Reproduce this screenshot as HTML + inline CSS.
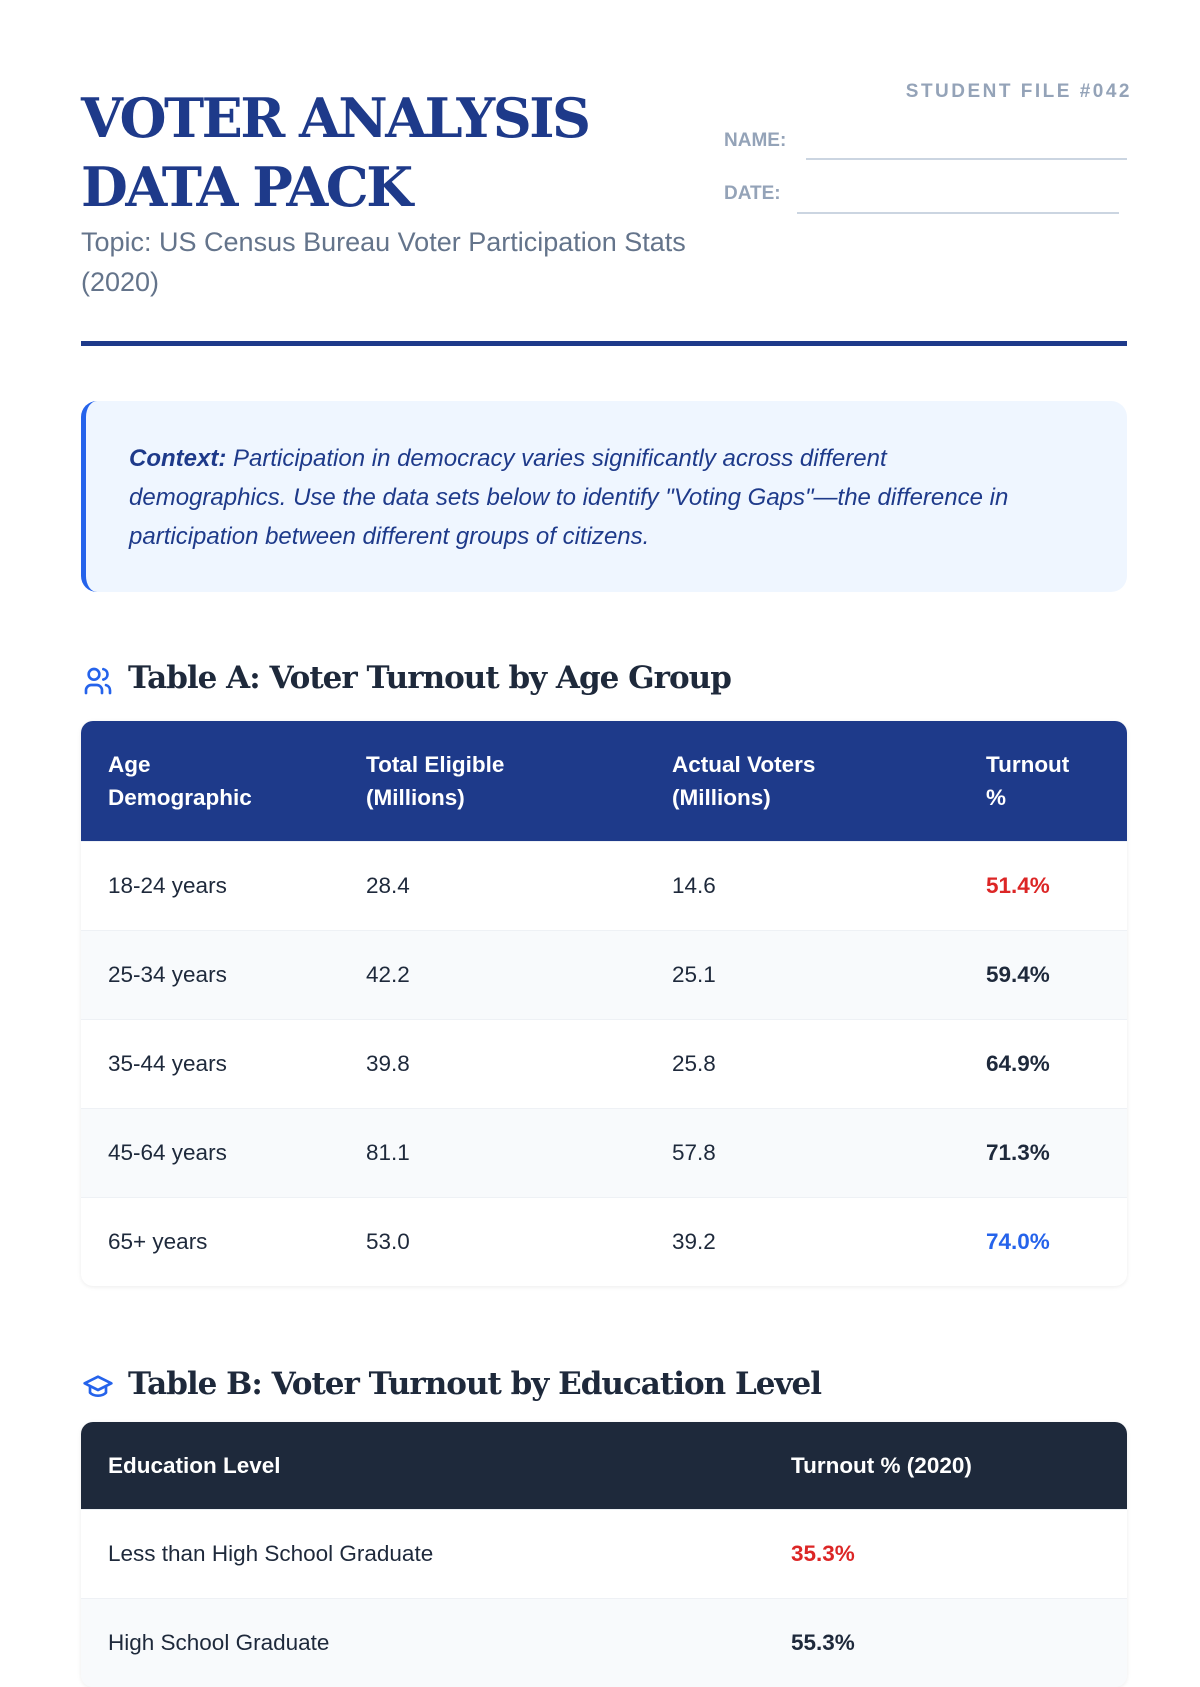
<!DOCTYPE html>
<html><head><meta charset="utf-8"><style>
*{margin:0;padding:0;box-sizing:border-box}
body{width:1200px;height:1600px;overflow:hidden;background:#fff;font-family:"Liberation Sans",sans-serif;position:relative}
.abs{position:absolute}
.title{left:81px;top:84px;font-family:"DejaVu Serif","Liberation Serif",serif;font-weight:bold;color:#1e3a8a;font-size:54px;line-height:69px;letter-spacing:-2.5px}
.sub{left:81px;top:222px;color:#64748b;font-size:27px;line-height:40px;width:655px}
.rule{left:81px;top:341px;width:1046px;height:5px;background:#1e3a8a}
.file{right:68px;top:81px;color:#94a3b8;font-weight:bold;font-size:19px;letter-spacing:2.5px}
.lbl{color:#94a3b8;font-weight:bold;font-size:19px}
.line{height:2px;background:#cbd5e1}
.ctx{left:81px;top:401px;width:1046px;height:191px;background:#eff6ff;border-left:5px solid #2563eb;border-radius:16px;padding:38px 20px 0 43px;font-style:italic;color:#1e3a8a;font-size:24px;line-height:39px;white-space:nowrap}
.h{font-family:"DejaVu Serif","Liberation Serif",serif;font-weight:bold;color:#1e293b;font-size:31px;letter-spacing:-1px}
table{border-collapse:collapse;width:1046px}
.ta{left:81px;top:721px;border-radius:12px;overflow:hidden;box-shadow:0 1px 4px rgba(0,0,0,.08)}
th{text-align:left;color:#fff;font-weight:bold;font-size:22.5px;line-height:33px;padding:0 0 0 27px}
td{font-size:22.5px;color:#1e293b;padding:0 0 0 27px;height:89px;border-top:1px solid #eef1f5}
tr.alt td{background:#f8fafc}
.b{font-weight:bold}
</style></head><body>
<div class="abs title">VOTER ANALYSIS<br>DATA PACK</div>
<div class="abs sub">Topic: US Census Bureau Voter Participation Stats (2020)</div>
<div class="abs file">STUDENT FILE #042</div>
<div class="abs lbl" style="left:724px;top:130px">NAME:</div>
<div class="abs line" style="left:806px;top:158px;width:321px"></div>
<div class="abs lbl" style="left:724px;top:183px">DATE:</div>
<div class="abs line" style="left:797px;top:212px;width:322px"></div>
<div class="abs rule"></div>
<div class="abs ctx"><b>Context:</b> Participation in democracy varies significantly across different<br>demographics. Use the data sets below to identify "Voting Gaps"—the difference in<br>participation between different groups of citizens.</div>

<div class="abs" style="left:82px;top:665px"><svg width="32" height="32" viewBox="0 0 24 24" fill="none" stroke="#2563eb" stroke-width="2" stroke-linecap="round"><circle cx="9" cy="7" r="4"/><path d="M3 21v-2a4 4 0 0 1 4-4h4a4 4 0 0 1 4 4v2"/><path d="M16 3.1a4 4 0 0 1 0 7.8"/><path d="M21 21v-2a4 4 0 0 0-3-3.9"/></svg></div>
<div class="abs h" style="left:128px;top:660px">Table A: Voter Turnout by Age Group</div>
<table class="abs ta">
<tr style="background:#1e3a8a;height:120px"><th style="width:258px">Age<br>Demographic</th><th style="width:306px">Total Eligible<br>(Millions)</th><th style="width:314px">Actual Voters<br>(Millions)</th><th>Turnout<br>%</th></tr>
<tr><td>18-24 years</td><td>28.4</td><td>14.6</td><td class="b" style="color:#dc2626">51.4%</td></tr>
<tr class="alt"><td>25-34 years</td><td>42.2</td><td>25.1</td><td class="b">59.4%</td></tr>
<tr><td>35-44 years</td><td>39.8</td><td>25.8</td><td class="b">64.9%</td></tr>
<tr class="alt"><td>45-64 years</td><td>81.1</td><td>57.8</td><td class="b">71.3%</td></tr>
<tr><td>65+ years</td><td>53.0</td><td>39.2</td><td class="b" style="color:#2563eb">74.0%</td></tr>
</table>

<div class="abs" style="left:82px;top:1370px"><svg width="32" height="32" viewBox="0 0 24 24" fill="none" stroke="#2563eb" stroke-width="2" stroke-linejoin="round"><path d="M22 10 12 5 2 10l10 5 10-5z"/><path d="M6 12v5c3 3 9 3 12 0v-5"/></svg></div>
<div class="abs h" style="left:128px;top:1366px">Table B: Voter Turnout by Education Level</div>
<table class="abs ta" style="top:1422px">
<tr style="background:#1e293b;height:87px"><th style="width:683px">Education Level</th><th>Turnout % (2020)</th></tr>
<tr><td>Less than High School Graduate</td><td class="b" style="color:#dc2626">35.3%</td></tr>
<tr class="alt"><td>High School Graduate</td><td class="b">55.3%</td></tr>
</table>
</body></html>
